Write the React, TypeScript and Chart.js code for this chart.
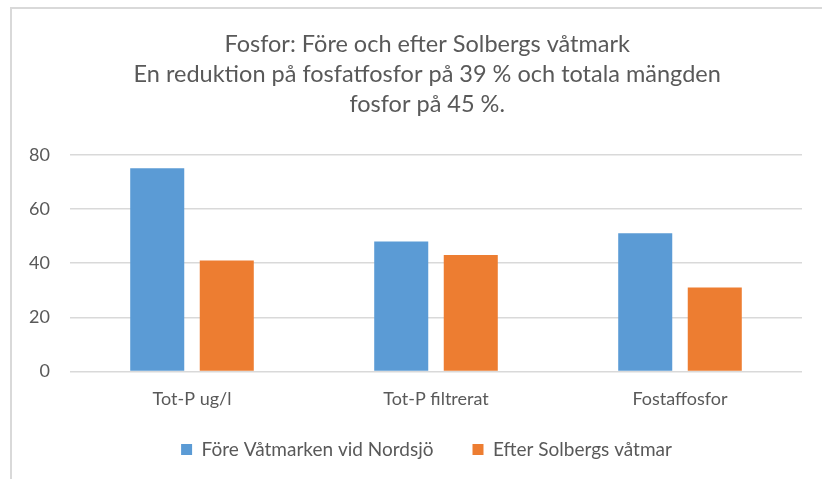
import React, { useEffect, useRef } from "react";
import { Chart, registerables } from "chart.js";

Chart.register(...registerables);

const titleLines = [
  "Fosfor: Före och efter Solbergs våtmark",
  "En reduktion på fosfatfosfor på 39 % och totala mängden",
  "fosfor på 45 %.",
];
const categories = ["Tot-P ug/l", "Tot-P filtrerat", "Fostaffosfor"];
const seriesNames = ["Före Våtmarken vid Nordsjö", "Efter Solbergs våtmar"];
const beforeValues = [75, 48, 51];
const afterValues = [41, 43, 31];
const yTicks = [0, 20, 40, 60, 80];

const FONT = "Lato, 'Open Sans', sans-serif";
const TEXT = "#595959";
const GRID = "#D9D9D9";

export default function App() {
  const ref = useRef<HTMLCanvasElement | null>(null);
  useEffect(() => {
    if (!ref.current) return;
    const chart = new Chart(ref.current, {
      type: "bar",
      data: {
        labels: categories,
        datasets: [
          {
            label: seriesNames[0],
            data: beforeValues,
            backgroundColor: "#5B9BD5",
            categoryPercentage: 0.57,
            barPercentage: 0.777,
          },
          {
            label: seriesNames[1],
            data: afterValues,
            backgroundColor: "#ED7D31",
            categoryPercentage: 0.57,
            barPercentage: 0.777,
          },
        ],
      },
      options: {
        animation: false,
        responsive: false,
        maintainAspectRatio: false,
        layout: { padding: { left: 14, right: 20, top: 30, bottom: 10 } },
        plugins: {
          title: {
            display: true,
            fullSize: false,
            text: titleLines.map((t) => t + "\u2003"),
            color: TEXT,
            font: { family: FONT, size: 23.5, weight: "normal", lineHeight: 1.26 },
            padding: { top: 0, bottom: 36 },
          },
          legend: {
            position: "bottom",
            fullSize: false,
            labels: {
              color: TEXT,
              font: { family: FONT, size: 19 },
              boxWidth: 11,
              boxHeight: 11,
              padding: 20,
              generateLabels: (c: any) => {
                const items = Chart.defaults.plugins.legend.labels.generateLabels(c);
                return items.map((it: any, i: number) => ({
                  ...it,
                  text: it.text + "\u2003\u2009\u2009",
                }));
              },
            },
          },
          tooltip: { enabled: false },
        },
        scales: {
          x: {
            grid: { display: false },
            border: { display: false },
            ticks: { color: TEXT, font: { family: FONT, size: 18 }, padding: 9 },
            afterFit: (scale: any) => {
              scale.height += 1;
            },
          },
          y: {
            min: 0,
            max: 80,
            afterBuildTicks: (scale: any) => {
              scale.ticks = yTicks.map((v) => ({ value: v }));
            },
            afterFit: (scale: any) => {
              scale.width = 56;
            },
            grid: { color: GRID, lineWidth: 1.5, drawTicks: false },
            border: { display: false },
            ticks: { color: TEXT, font: { family: FONT, size: 18 }, padding: 20 },
          },
        },
      },
    });
    return () => chart.destroy();
  }, []);
  return (
    <div style={{ position: "fixed", left: 0, top: 0, width: 822, height: 479, background: "#fff" }}>
      <div
        style={{
          position: "absolute",
          left: 10,
          top: 7,
          right: 0,
          bottom: 0,
          borderTop: "2px solid #D9D9D9",
          borderLeft: "2px solid #D9D9D9",
        }}
      />
      <canvas ref={ref} width={822} height={479} style={{ position: "absolute", left: 0, top: 0 }} />
    </div>
  );
}
